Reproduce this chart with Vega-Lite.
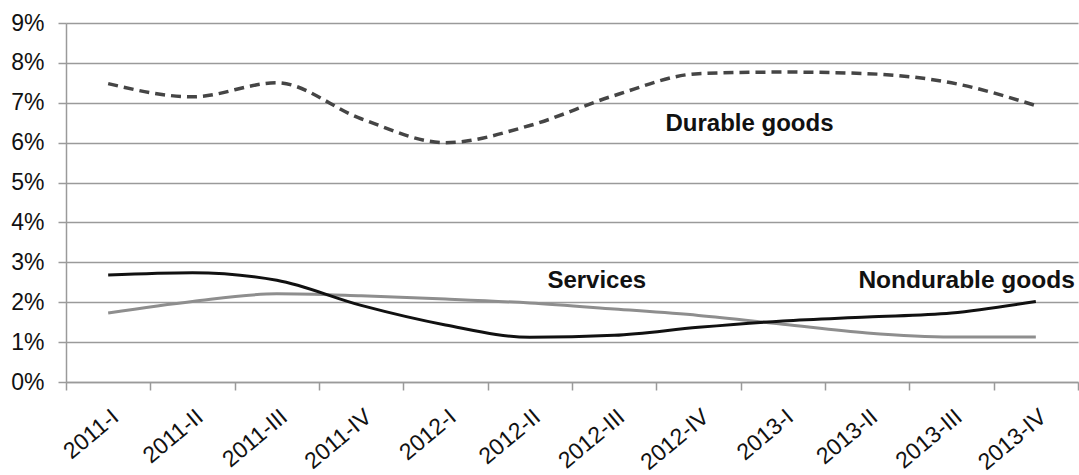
{
  "$schema": "https://vega.github.io/schema/vega-lite/v6.json",
  "autosize": "none",
  "width": 1012,
  "height": 359,
  "padding": {"left": 66, "top": 23, "right": 1, "bottom": 93},
  "background": "white",
  "config": {"view": {"stroke": null}},
  "datasets": {
    "series": [
      {"q": "2011-I", "s": "Durable goods", "v": 7.48},
      {"q": "2011-II", "s": "Durable goods", "v": 7.15},
      {"q": "2011-III", "s": "Durable goods", "v": 7.5},
      {"q": "2011-IV", "s": "Durable goods", "v": 6.6},
      {"q": "2012-I", "s": "Durable goods", "v": 6.0},
      {"q": "2012-II", "s": "Durable goods", "v": 6.43},
      {"q": "2012-III", "s": "Durable goods", "v": 7.18},
      {"q": "2012-IV", "s": "Durable goods", "v": 7.73},
      {"q": "2013-I", "s": "Durable goods", "v": 7.77},
      {"q": "2013-II", "s": "Durable goods", "v": 7.73},
      {"q": "2013-III", "s": "Durable goods", "v": 7.5},
      {"q": "2013-IV", "s": "Durable goods", "v": 6.93},
      {"q": "2011-I", "s": "Nondurable goods", "v": 2.68},
      {"q": "2011-II", "s": "Nondurable goods", "v": 2.74},
      {"q": "2011-III", "s": "Nondurable goods", "v": 2.55},
      {"q": "2011-IV", "s": "Nondurable goods", "v": 1.92},
      {"q": "2012-I", "s": "Nondurable goods", "v": 1.43},
      {"q": "2012-II", "s": "Nondurable goods", "v": 1.12},
      {"q": "2012-III", "s": "Nondurable goods", "v": 1.17},
      {"q": "2012-IV", "s": "Nondurable goods", "v": 1.37},
      {"q": "2013-I", "s": "Nondurable goods", "v": 1.53},
      {"q": "2013-II", "s": "Nondurable goods", "v": 1.63},
      {"q": "2013-III", "s": "Nondurable goods", "v": 1.73},
      {"q": "2013-IV", "s": "Nondurable goods", "v": 2.02},
      {"q": "2011-I", "s": "Services", "v": 1.73},
      {"q": "2011-II", "s": "Services", "v": 2.02},
      {"q": "2011-III", "s": "Services", "v": 2.21},
      {"q": "2011-IV", "s": "Services", "v": 2.16},
      {"q": "2012-I", "s": "Services", "v": 2.08},
      {"q": "2012-II", "s": "Services", "v": 1.98},
      {"q": "2012-III", "s": "Services", "v": 1.83},
      {"q": "2012-IV", "s": "Services", "v": 1.67},
      {"q": "2013-I", "s": "Services", "v": 1.45},
      {"q": "2013-II", "s": "Services", "v": 1.23},
      {"q": "2013-III", "s": "Services", "v": 1.13},
      {"q": "2013-IV", "s": "Services", "v": 1.13}
    ]
  },
  "encoding": {
    "x": {
      "field": "q", "type": "nominal", "sort": null,
      "scale": {"paddingInner": 0, "paddingOuter": 0},
      "axis": {
        "title": null, "labelAngle": -40, "labelFont": "Liberation Sans", "labelFontSize": 23,
        "labelColor": "#111", "domainColor": "#9a9a9a", "domainWidth": 1.5,
        "tickColor": "#9a9a9a", "tickWidth": 1.5, "tickSize": 8, "tickBand": "extent",
        "labelPadding": 15, "grid": false, "labelOverlap": false, "labelLimit": 0
      }
    },
    "y": {
      "field": "v", "type": "quantitative",
      "scale": {"domain": [0, 9], "nice": false},
      "axis": {
        "title": null, "values": [0, 1, 2, 3, 4, 5, 6, 7, 8, 9],
        "labelExpr": "datum.value + '%'", "labelOverlap": false,
        "labelFont": "Liberation Sans", "labelFontSize": 23, "labelColor": "#111",
        "labelPadding": 14, "tickSize": 8, "tickColor": "#9a9a9a", "tickWidth": 1.5,
        "domainColor": "#9a9a9a", "domainWidth": 1.5,
        "grid": true, "gridColor": "#9a9a9a", "gridWidth": 1.5
      }
    }
  },
  "layer": [
    {
      "data": {"name": "series"},
      "transform": [{"filter": "datum.s === 'Services'"}],
      "mark": {"type": "line", "interpolate": "monotone", "color": "#8e8e8e", "strokeWidth": 3}
    },
    {
      "data": {"name": "series"},
      "transform": [{"filter": "datum.s === 'Nondurable goods'"}],
      "mark": {"type": "line", "interpolate": "monotone", "color": "#111111", "strokeWidth": 3}
    },
    {
      "data": {"name": "series"},
      "transform": [{"filter": "datum.s === 'Durable goods'"}],
      "mark": {"type": "line", "interpolate": "monotone", "color": "#454545", "strokeWidth": 3.5, "strokeDash": [10, 6]}
    },
    {
      "data": {"values": [{"q": "2012-IV", "v": 6.47, "t": "Durable goods"}]},
      "mark": {"type": "text", "align": "left", "baseline": "middle", "dx": -33, "font": "Liberation Sans", "fontWeight": "bold", "fontSize": 24, "color": "#111"},
      "encoding": {"text": {"field": "t"}}
    },
    {
      "data": {"values": [{"q": "2012-III", "v": 2.52, "t": "Services"}]},
      "mark": {"type": "text", "align": "right", "baseline": "middle", "dx": 32, "font": "Liberation Sans", "fontWeight": "bold", "fontSize": 24, "color": "#111"},
      "encoding": {"text": {"field": "t"}}
    },
    {
      "data": {"values": [{"q": "2013-IV", "v": 2.52, "t": "Nondurable goods"}]},
      "mark": {"type": "text", "align": "right", "baseline": "middle", "dx": 39, "font": "Liberation Sans", "fontWeight": "bold", "fontSize": 24.5, "color": "#111"},
      "encoding": {"text": {"field": "t"}}
    }
  ]
}
